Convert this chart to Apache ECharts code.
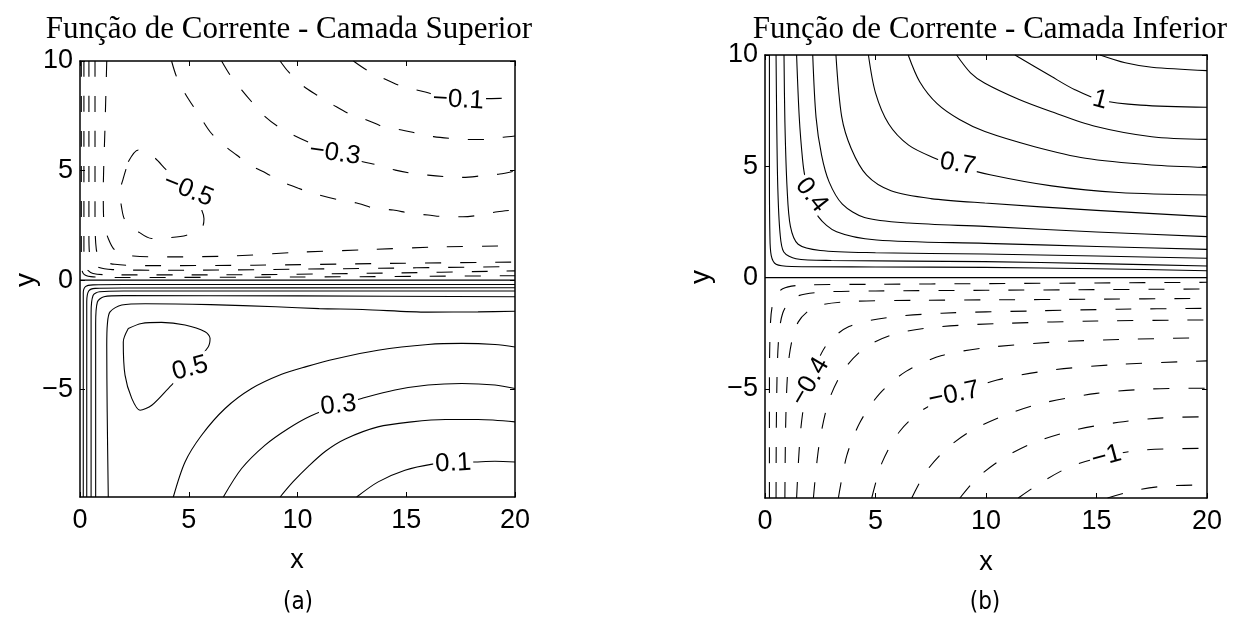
<!DOCTYPE html>
<html><head><meta charset="utf-8">
<script src="https://cdn.jsdelivr.net/npm/echarts@6/dist/echarts.min.js"></script>
<style>html,body{margin:0;padding:0;background:#fff}#c{width:1234px;height:619px}</style>
</head><body><div id="c"></div>
<script>
// ---------- axes / text ----------
const xTicks = [0, 5, 10, 15, 20];
const yTicks = [-5, 0, 5, 10];
const xRange = [0, 20];
const yRange = [-9.9, 10];
const titleA = 'Função de Corrente - Camada Superior';
const titleB = 'Função de Corrente - Camada Inferior';
const captionA = '(a)';
const captionB = '(b)';

// ---------- panel (a): upper layer, negative (dashed) contours ----------
const aN1 = [[12.57,10],[13.18,9.59],[13.95,9.21],[14.64,8.9],[15.48,8.68],[16.4,8.45],[17.4,8.3],[18.5,8.28],[19.46,8.3],[20,8.32]];
const aN2 = [[9.2,10],[9.58,9.51],[10.27,8.85],[10.88,8.45],[11.65,7.99],[12.34,7.61],[13.18,7.31],[13.95,7.0],[14.79,6.85],[15.48,6.7],[16.25,6.55],[17.0,6.47],[17.85,6.42],[18.7,6.42],[19.46,6.52],[20,6.58]];
const aN3 = [[6.51,10],[6.9,9.36],[7.43,8.68],[7.89,8.14],[8.51,7.46],[9.12,7.0],[9.81,6.62],[10.5,6.3],[11.72,5.79],[13.0,5.4],[13.7,5.25],[14.5,5.02],[15.3,4.87],[16.0,4.79],[16.86,4.72],[17.62,4.69],[18.47,4.76],[19.3,4.84],[20,4.98]];
const aN4 = [[4.21,10],[4.44,9.28],[4.83,8.52],[5.52,7.46],[5.98,6.77],[6.51,6.24],[7.2,5.71],[7.82,5.25],[8.58,4.87],[9.27,4.49],[10.04,4.19],[10.73,3.96],[11.95,3.65],[12.8,3.5],[13.56,3.27],[14.4,3.2],[15.17,3.05],[16.0,2.97],[16.86,2.89],[17.6,2.89],[18.4,2.97],[19.2,3.12],[20,3.2]];
const aN5 = [[2.22,5.4],[2.68,5.94],[3.37,5.63],[3.98,5.02],[4.98,4.11],[5.5,3.4],[5.7,2.8],[5.59,2.36],[4.9,2.05],[4.06,1.93],[3.3,1.9],[2.68,2.21],[2.07,2.74],[1.92,3.27],[1.84,4.03],[1.99,4.64],[2.22,5.4]];
const aN4w = [[1.23,10],[1.15,7],[1.07,4],[1.1,2.6],[1.3,1.9],[1.61,1.37],[2.45,1.1],[4,1.06],[7,1.1],[10,1.27],[13,1.38],[16.8,1.52],[20,1.56]];
const aN3w = [[0.69,10],[0.69,3],[0.75,1.4],[1.0,0.9],[1.6,0.72],[3,0.66],[8,0.68],[14,0.76],[20,0.82]];
const aN2w = [[0.41,10],[0.41,2],[0.48,0.95],[0.8,0.6],[1.5,0.48],[4,0.45],[12,0.52],[20,0.62]];
const aN1w = [[0.18,10],[0.18,1.5],[0.25,0.6],[0.6,0.3],[1.5,0.24],[6,0.24],[14,0.32],[20,0.42]];
const aN0w = [[0.06,10],[0.06,0.8],[0.15,0.3],[0.5,0.16],[2,0.12],[10,0.14],[20,0.2]];

// ---------- panel (a): positive (solid) contours ----------
const aP1 = [[12.72,-9.9],[13.71,-9.21],[14.94,-8.68],[16.2,-8.4],[17.16,-8.33],[18.16,-8.3],[19.08,-8.27],[20,-8.3]];
const aP2 = [[9.2,-9.9],[9.8,-9.2],[10.5,-8.5],[11.3,-7.8],[12.2,-7.25],[13.7,-6.7],[15.25,-6.47],[16.8,-6.36],[18.3,-6.36],[20,-6.47]];
const aP3 = [[6.59,-9.9],[7.43,-8.6],[8.51,-7.53],[9.58,-6.77],[10.6,-6.2],[11.88,-5.71],[12.95,-5.4],[14.48,-5.02],[16.0,-4.79],[17.55,-4.72],[19.08,-4.79],[20,-4.95]];
const aP4 = [[4.29,-9.9],[4.83,-8.3],[5.59,-7.08],[6.67,-5.86],[7.89,-4.95],[9.27,-4.3],[10.4,-3.95],[11.72,-3.6],[13.7,-3.2],[16.0,-2.94],[17.55,-2.89],[19.08,-2.94],[20,-3.05]];
const aP5 = [[2.22,-2.21],[2.83,-1.98],[3.75,-1.93],[4.83,-2.05],[5.75,-2.36],[5.98,-2.66],[5.9,-3.04],[5.06,-4.03],[4.21,-4.79],[3.3,-5.71],[2.76,-5.94],[2.38,-5.4],[2.07,-4.34],[1.99,-2.82],[2.22,-2.21]];
const aP4w = [[1.3,-9.9],[1.25,-6],[1.23,-3],[1.26,-2],[1.38,-1.45],[1.92,-1.14],[3,-1.08],[6,-1.12],[9,-1.22],[11,-1.3],[13,-1.34],[16,-1.46],[18.3,-1.45],[20,-1.42]];
const aP3w = [[0.72,-9.9],[0.72,-2],[0.8,-1.0],[1.1,-0.76],[2,-0.71],[10,-0.72],[20,-0.76]];
const aP2w = [[0.51,-9.9],[0.51,-1.5],[0.6,-0.7],[0.9,-0.53],[2,-0.5],[20,-0.5]];
const aP1w = [[0.31,-9.9],[0.31,-1],[0.4,-0.5],[0.7,-0.38],[2,-0.36],[20,-0.35]];
const aP0w = [[0.15,-9.9],[0.15,-0.6],[0.25,-0.3],[0.6,-0.22],[2,-0.2],[20,-0.2]];
const aZero = [[0,0],[20,0]];

// contour labels: [x, y, text, angle in degrees]
const aLabels = [[17.39,8.22,'\u22120.1',-3],[11.72,5.79,'\u22120.3',-8],[4.98,4.11,'\u22120.5',-22],
                 [5.06,-4.03,'0.5',15],[11.88,-5.71,'0.3',6],[17.16,-8.37,'0.1',3]];

// ---------- panel (b): lower layer, positive (solid) contours ----------
const bP1 = [[0.2,10],[0.2,5],[0.22,2],[0.28,1.0],[0.5,0.6],[1.2,0.5],[5,0.48],[9.95,0.46],[15,0.4],[20,0.31]];
const bP2 = [[0.5,10],[0.53,7],[0.58,4],[0.68,2],[0.85,1.15],[1.4,0.85],[3,0.77],[9.95,0.72],[15,0.63],[20,0.52]];
const bP3 = [[0.86,10],[0.9,7],[1.0,4],[1.15,2.3],[1.5,1.5],[2.5,1.22],[5,1.12],[9.95,1.06],[15,0.97],[20,0.87]];
const bP4 = [[1.43,10],[1.55,7.2],[1.7,5.3],[1.81,4.53],[2.04,3.71],[2.41,2.74],[3.24,2.06],[5.05,1.69],[9.95,1.54],[15,1.4],[20,1.27]];
const bP5 = [[2.16,10],[2.31,7.2],[2.56,5.5],[2.9,4.3],[3.5,3.3],[4.5,2.7],[6.5,2.45],[9.95,2.3],[15,2.05],[20,1.84]];
const bP6 = [[3.21,10],[3.47,7.23],[3.9,5.8],[4.6,4.6],[5.7,3.9],[7.5,3.55],[9.95,3.35],[15,3.02],[20,2.74]];
const bP7 = [[4.68,10],[5.0,8.3],[5.6,6.9],[6.5,5.95],[7.6,5.4],[8.67,5.02],[10.18,4.62],[12.97,4.12],[16,3.82],[20,3.71]];
const bP8 = [[6.48,10],[7.0,8.8],[7.8,7.8],[8.8,7.1],[9.95,6.56],[12.2,5.88],[14.5,5.36],[17.5,5.06],[20,4.95]];
const bP9 = [[8.67,10],[9.3,9.2],[9.95,8.73],[11.5,8.0],[12.97,7.45],[14.93,6.8],[17.5,6.33],[20,6.21]];
const bP10 = [[11.31,10],[12.97,9.03],[14,8.45],[15.16,7.98],[17,7.75],[20,7.65]];
const bP11 = [[15.16,10],[16.3,9.65],[17.5,9.45],[20,9.3]];
const bZero = [[0,0],[20,0]];

// ---------- panel (b): negative (dashed) contours ----------
const bN1 = [[0.2,-9.9],[0.2,-5],[0.25,-2],[0.4,-1],[0.8,-0.5],[1.8,-0.33],[5,-0.3],[10,-0.27],[15,-0.24],[20,-0.21]];
const bN2 = [[0.5,-9.9],[0.52,-6],[0.6,-3],[0.8,-1.6],[1.3,-0.9],[2.5,-0.66],[5,-0.6],[10,-0.57],[15,-0.54],[20,-0.51]];
const bN3 = [[0.9,-9.9],[0.95,-6],[1.1,-3.5],[1.5,-2],[2.3,-1.3],[4,-1.07],[7,-1.02],[10,-1.0],[15,-0.97],[20,-0.93]];
const bN4 = [[1.43,-9.9],[1.6,-7],[1.85,-5.2],[2.15,-4.3],[2.8,-3],[3.8,-2.2],[5.5,-1.8],[8,-1.6],[12,-1.5],[16,-1.42],[20,-1.38]];
const bN5 = [[2.19,-9.9],[2.45,-7.5],[2.9,-5.5],[3.6,-4.1],[4.6,-3.1],[6,-2.5],[8,-2.2],[11,-2.05],[15,-1.95],[20,-1.9]];
const bN6 = [[3.32,-9.9],[3.7,-8],[4.3,-6.5],[5.2,-5.2],[6.4,-4.2],[8,-3.5],[10,-3.15],[13,-2.9],[16,-2.78],[20,-2.7]];
const bN7 = [[4.83,-9.9],[5.3,-8.3],[6.1,-6.9],[7.2,-5.9],[8.6,-5.25],[10.5,-4.6],[13,-4.15],[16,-3.9],[20,-3.74]];
const bN8 = [[6.64,-9.9],[7.3,-8.7],[8.2,-7.7],[9.3,-6.9],[10.8,-6.2],[12.5,-5.65],[15,-5.2],[17.5,-5.0],[20,-4.97]];
const bN9 = [[8.82,-9.9],[9.6,-9.0],[10.8,-8.1],[12.2,-7.4],[14,-6.85],[16,-6.5],[18,-6.3],[20,-6.25]];
const bN10 = [[11.46,-9.9],[12.5,-9.2],[13.8,-8.5],[15.3,-8.05],[17,-7.75],[20,-7.67]];
const bN11 = [[15.5,-9.9],[16.8,-9.55],[18.3,-9.35],[20,-9.32]];

const bLabels = [[2.1,3.71,'0.4',-52],[8.72,5.1,'0.7',-10],[15.16,7.98,'1',-15],
                 [2.04,-4.68,'\u22120.4',60],[8.55,-5.27,'\u22120.7',12],[15.45,-8.04,'\u22121',15]];

// ---------- build ----------
const aSolid = [aP1,aP2,aP3,aP4,aP5,aP4w,aP3w,aP2w,aP1w,aP0w,aZero];
const aDash = [aN1,aN2,aN3,aN4,aN5,aN4w,aN3w,aN2w,aN1w,aN0w];
const bSolid = [bP1,bP2,bP3,bP4,bP5,bP6,bP7,bP8,bP9,bP10,bP11,bZero];
const bDash = [bN1,bN2,bN3,bN4,bN5,bN6,bN7,bN8,bN9,bN10,bN11];

const BLACK = '#000';
const SANS = '"Liberation Sans", Arial, Helvetica, sans-serif';
const fmt = v => (v < 0 ? '\u2212' + (-v) : String(v));

function xAxisDef(grid, pos, labels) {
  return {type:'value', gridIndex:grid, position:pos, min:xRange[0], max:xRange[1],
    axisLine:{show:true, onZero:false, lineStyle:{color:BLACK, width:1.5}},
    axisTick:{show:true, inside:true, length:5, customValues:xTicks, lineStyle:{color:BLACK, width:1}},
    axisLabel:{show:labels, customValues:xTicks, formatter:fmt, color:BLACK, fontSize:27, fontFamily:SANS, margin:10},
    splitLine:{show:false}};
}
function yAxisDef(grid, pos, labels) {
  return {type:'value', gridIndex:grid, position:pos, min:yRange[0], max:yRange[1],
    axisLine:{show:true, onZero:false, lineStyle:{color:BLACK, width:1.5}},
    axisTick:{show:true, inside:true, length:5, customValues:yTicks, lineStyle:{color:BLACK, width:1}},
    axisLabel:{show:labels, customValues:yTicks, formatter:fmt, color:BLACK, fontSize:27, fontFamily:SANS, margin:7},
    splitLine:{show:false}};
}
const series = [];
function addLines(list, dashed, xi, yi) {
  list.forEach(pts => series.push({type:'line', xAxisIndex:xi, yAxisIndex:yi, data:pts,
    showSymbol:false, symbol:'none', smooth:0.3, silent:true, animation:false, z:2,
    lineStyle:{color:BLACK, width:1.1, type: dashed ? [16, 19] : 'solid'}}));
}
addLines(aSolid, false, 0, 0);
addLines(aDash, true, 0, 0);
addLines(bSolid, false, 2, 2);
addLines(bDash, true, 2, 2);

const staticText = [
  {type:'text', x:289, y:30, style:{text:titleA, font:'31px "Liberation Serif", serif', fill:BLACK, align:'center', verticalAlign:'middle'}},
  {type:'text', x:990, y:30, style:{text:titleB, font:'31px "Liberation Serif", serif', fill:BLACK, align:'center', verticalAlign:'middle'}},
  {type:'text', x:297, y:561, style:{text:'x', font:'27px ' + SANS, fill:BLACK, align:'center', verticalAlign:'middle'}},
  {type:'text', x:986, y:563, style:{text:'x', font:'27px ' + SANS, fill:BLACK, align:'center', verticalAlign:'middle'}},
  {type:'text', x:26, y:280, rotation:Math.PI/2, style:{text:'y', font:'28px ' + SANS, fill:BLACK, align:'center', verticalAlign:'middle'}},
  {type:'text', x:701, y:277, rotation:Math.PI/2, style:{text:'y', font:'28px ' + SANS, fill:BLACK, align:'center', verticalAlign:'middle'}},
  {type:'text', x:298, y:603, style:{text:captionA, font:'24px "Liberation Sans Narrow", "DejaVu Sans Condensed", sans-serif', fill:BLACK, align:'center', verticalAlign:'middle'}},
  {type:'text', x:985, y:603, style:{text:captionB, font:'24px "Liberation Sans Narrow", "DejaVu Sans Condensed", sans-serif', fill:BLACK, align:'center', verticalAlign:'middle'}}
];

const chart = echarts.init(document.getElementById('c'), null, {renderer:'canvas'});
chart.setOption({
  animation:false,
  backgroundColor:'#fff',
  grid:[{left:80, top:61, width:435, height:436},{left:765, top:55, width:442, height:443}],
  xAxis:[xAxisDef(0,'bottom',true), xAxisDef(0,'top',false), xAxisDef(1,'bottom',true), xAxisDef(1,'top',false)],
  yAxis:[yAxisDef(0,'left',true), yAxisDef(0,'right',false), yAxisDef(1,'left',true), yAxisDef(1,'right',false)],
  series: series,
  graphic: staticText
});

// contour labels placed through the chart's own axis scales
function labelElements(list, gridIndex) {
  return list.map(l => {
    const p = chart.convertToPixel({gridIndex: gridIndex}, [l[0], l[1]]);
    return {type:'text', x:p[0], y:p[1], rotation:l[3] * Math.PI / 180, z:100,
      style:{text:l[2], font:'26px ' + SANS, fill:BLACK, align:'center', verticalAlign:'middle',
             backgroundColor:'#fff', padding:[0,2]}};
  });
}
chart.setOption({graphic: staticText.concat(labelElements(aLabels, 0), labelElements(bLabels, 1))});
</script></body></html>
